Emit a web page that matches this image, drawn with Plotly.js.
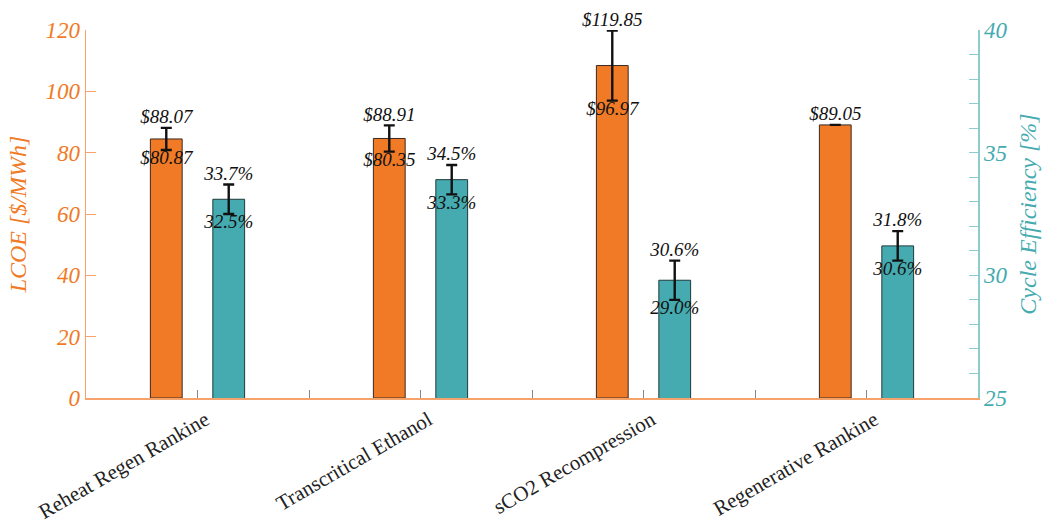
<!DOCTYPE html>
<html>
<head>
<meta charset="utf-8">
<script src="https://cdn.plot.ly/plotly-3.0.1.min.js"></script>
<style>
  html, body { margin: 0; padding: 0; background: #fff; }
  #chart { width: 1044px; height: 531px; }
</style>
</head>
<body>
<div id="chart"></div>
<script>
// Cycle comparison: levelized cost (left axis) and cycle efficiency (right axis)
const categories = ['Reheat Regen Rankine', 'Transcritical Ethanol', 'sCO2 Recompression', 'Regenerative Rankine'];

// LCOE range per cycle [$/MWh]
const lcoeLow  = [80.87, 80.35, 96.97, 89.05];
const lcoeHigh = [88.07, 88.91, 119.85, 89.05];

// Cycle efficiency range per cycle [%]
const effLow  = [32.5, 33.3, 29.0, 30.6];
const effHigh = [33.7, 34.5, 30.6, 31.8];

const ORANGE = '#F07A26';
const TEAL = '#45ABB0';
const ORANGE_AXIS = '#F5A36B';
const TEAL_AXIS = '#8CCBCE';
const SERIF = 'Liberation Serif';

// layout of groups along a linear x axis: one group every 2 units
const centers = categories.map((_, i) => 1 + 2 * i);
const offset = 0.28;
const barWidth = 0.285;
const xL = centers.map(c => c - offset);
const xE = centers.map(c => c + offset);

const mid = (lo, hi) => lo.map((v, i) => (v + hi[i]) / 2);
const half = (lo, hi) => lo.map((v, i) => hi[i] > v ? (hi[i] - v) / 2 : null);

const lcoeMid = mid(lcoeLow, lcoeHigh);
const effMid = mid(effLow, effHigh);

const errStyle = { type: 'data', symmetric: true, color: '#111', thickness: 2.4, width: 5.5 };
const labelFont = { family: SERIF, size: 19, color: '#111', style: 'italic' };

const traces = [
  {
    type: 'bar', x: xL, y: lcoeMid, width: barWidth, yaxis: 'y',
    marker: { color: ORANGE, line: { color: '#3a2a20', width: 1 } },
    error_y: Object.assign({ array: half(lcoeLow, lcoeHigh) }, errStyle),
    hoverinfo: 'skip', showlegend: false
  },
  {
    type: 'bar', x: xE, y: effMid, width: barWidth, yaxis: 'y2',
    marker: { color: TEAL, line: { color: '#1f3a3b', width: 1 } },
    error_y: Object.assign({ array: half(effLow, effHigh) }, errStyle),
    hoverinfo: 'skip', showlegend: false
  },
  // upper value labels
  {
    type: 'scatter', mode: 'text', x: xL, y: lcoeHigh, yaxis: 'y',
    text: lcoeHigh.map(v => '$' + v.toFixed(2)), textposition: 'top center',
    textfont: labelFont, cliponaxis: false, hoverinfo: 'skip', showlegend: false
  },
  // lower value labels (only where a range exists)
  {
    type: 'scatter', mode: 'text',
    x: xL.filter((_, i) => lcoeHigh[i] > lcoeLow[i]),
    y: lcoeLow.filter((v, i) => lcoeHigh[i] > v), yaxis: 'y',
    text: lcoeLow.filter((v, i) => lcoeHigh[i] > v).map(v => '$' + v.toFixed(2)),
    textposition: 'bottom center',
    textfont: labelFont, cliponaxis: false, hoverinfo: 'skip', showlegend: false
  },
  {
    type: 'scatter', mode: 'text', x: xE, y: effHigh, yaxis: 'y2',
    text: effHigh.map(v => v.toFixed(1) + '%'), textposition: 'top center',
    textfont: labelFont, cliponaxis: false, hoverinfo: 'skip', showlegend: false
  },
  {
    type: 'scatter', mode: 'text', x: xE, y: effLow, yaxis: 'y2',
    text: effLow.map(v => v.toFixed(1) + '%'), textposition: 'bottom center',
    textfont: labelFont, cliponaxis: false, hoverinfo: 'skip', showlegend: false
  }
];

// tick marks between and under groups; names only under group centres
const tickVals = [1, 2, 3, 4, 5, 6, 7];
const tickText = tickVals.map(v => (v % 2 === 1 ? categories[(v - 1) / 2] : ''));

const layout = {
  width: 1044, height: 531,
  margin: { l: 86, r: 66, t: 30, b: 133 },
  paper_bgcolor: '#fff', plot_bgcolor: '#fff',
  barmode: 'overlay',
  showlegend: false,
  xaxis: {
    range: [0, 8], tickmode: 'array', tickvals: tickVals, ticktext: tickText,
    tickangle: -30, ticks: 'inside', ticklen: 8, tickcolor: '#888', tickwidth: 1,
    ticklabelshift: 8, ticklabelstandoff: 0,
    showgrid: false, zeroline: false,
    showline: true, linecolor: ORANGE_AXIS, linewidth: 1.5,
    tickfont: { family: SERIF, size: 21, color: '#222' }
  },
  yaxis: {
    range: [0, 120], dtick: 20, ticks: 'inside', ticklen: 10, tickcolor: ORANGE_AXIS,
    showgrid: false, zeroline: false,
    showline: true, linecolor: ORANGE_AXIS, linewidth: 1.5,
    tickfont: { family: SERIF, size: 23, color: ORANGE, style: 'italic' },
    title: { text: 'LCOE [$/MWh]', standoff: 12,
             font: { family: SERIF, size: 24, color: ORANGE, style: 'italic' } }
  },
  yaxis2: {
    overlaying: 'y', side: 'right',
    range: [25, 40], dtick: 5, ticks: 'inside', ticklen: 9, tickcolor: TEAL_AXIS,
    minor: { dtick: 1, ticks: 'inside', ticklen: 9, tickcolor: TEAL_AXIS },
    showgrid: false, zeroline: false,
    showline: true, linecolor: TEAL_AXIS, linewidth: 1.5,
    tickfont: { family: SERIF, size: 23, color: TEAL, style: 'italic' },
    title: { text: 'Cycle Efficiency [%]', standoff: 12,
             font: { family: SERIF, size: 24, color: TEAL, style: 'italic' } }
  }
};

Plotly.newPlot('chart', traces, layout, { staticPlot: true, displayModeBar: false });
</script>
</body>
</html>
